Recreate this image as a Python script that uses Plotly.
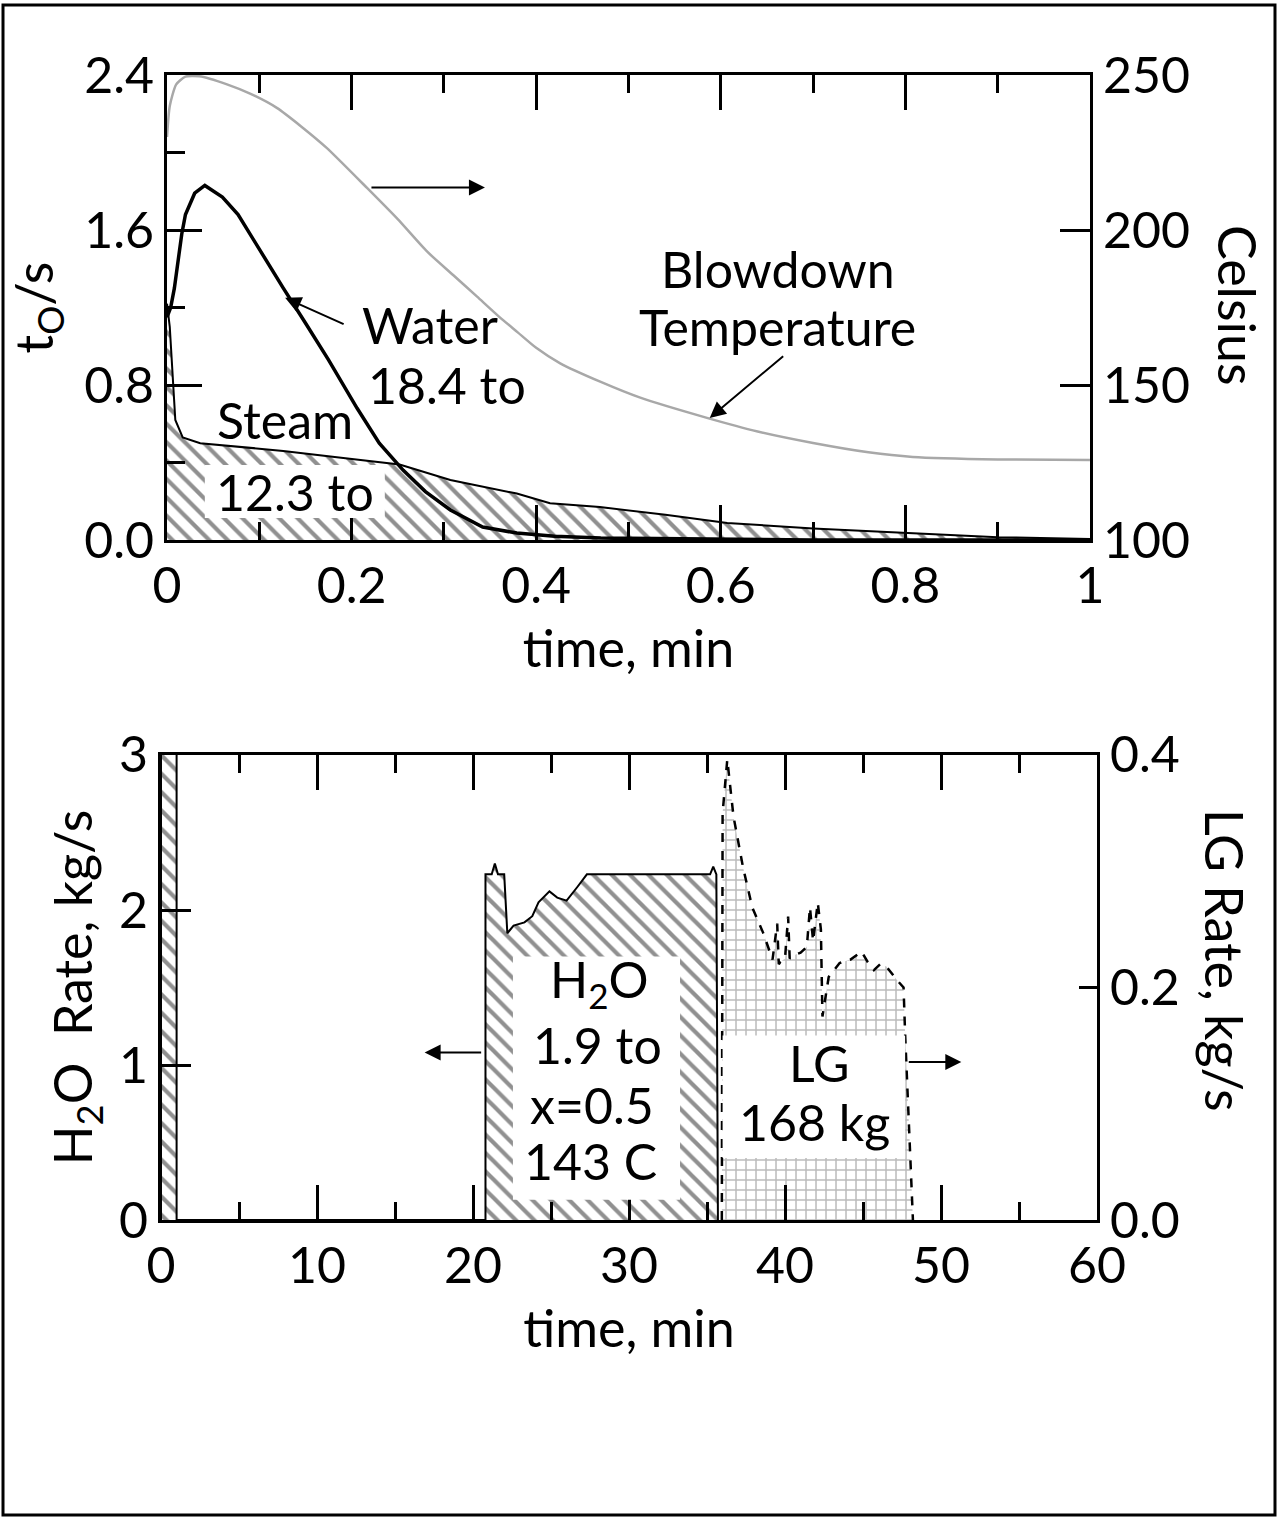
import plotly.graph_objects as go

# ---------------- data (top panel) ----------------
temp_t = [0, 0.003, 0.01, 0.02, 0.035, 0.065, 0.09, 0.119, 0.145, 0.173, 0.217, 0.25, 0.282,
          0.31, 0.336, 0.36, 0.38, 0.40, 0.426, 0.47, 0.512, 0.585, 0.64, 0.70, 0.76, 0.808,
          0.9, 1.0]
temp_c = [230, 240, 247, 249.5, 249.6, 247, 244, 239.4, 233.5, 226.5, 213.5, 203.5, 193,
          185.5, 178.5, 172, 167, 162, 157, 151, 146, 139.4, 135, 131.3, 128.3, 126.8,
          126, 125.8]

water_t = [0, 0.004, 0.008, 0.012, 0.016, 0.02, 0.03, 0.041, 0.06, 0.077, 0.1, 0.126, 0.15,
           0.175, 0.206, 0.23, 0.256, 0.28, 0.307, 0.342, 0.379, 0.42, 0.47, 0.55, 0.7, 0.85, 1.0]
water_v = [1.15, 1.2, 1.3, 1.45, 1.58, 1.68, 1.79, 1.83, 1.77, 1.68, 1.5, 1.3, 1.12,
           0.93, 0.68, 0.5, 0.36, 0.25, 0.155, 0.067, 0.036, 0.02, 0.01, 0.005, 0, 0, 0]

steam_t = [0, 0.003, 0.009, 0.017, 0.036, 0.08, 0.126, 0.198, 0.252, 0.307, 0.379, 0.415,
           0.469, 0.54, 0.607, 0.7, 0.803, 0.9, 1.0]
steam_v = [1.22, 1.1, 0.62, 0.53, 0.50, 0.48, 0.46, 0.42, 0.39, 0.31, 0.24, 0.19,
           0.17, 0.13, 0.088, 0.06, 0.036, 0.015, 0.005]

# ---------------- data (bottom panel) ----------------
h2o_t = [0, 0, 1.0, 1.0, 20.8, 20.8, 21.2, 21.4, 21.6, 22.0, 22.2, 22.6, 23.3, 23.8, 24.2,
         24.5, 24.9, 25.4, 26.0, 26.7, 27.3, 35.2, 35.4, 35.6, 35.7]
h2o_v = [0, 3.5, 3.5, 0, 0, 2.23, 2.23, 2.30, 2.23, 2.23, 1.85, 1.90, 1.92, 1.96, 2.05,
         2.08, 2.12, 2.08, 2.06, 2.15, 2.23, 2.23, 2.28, 2.23, 0]

lg_t = [35.95, 36.0, 36.3, 36.7, 37.3, 37.9, 38.6, 39.2, 39.5, 39.6, 39.7, 40.0, 40.2, 40.3,
        40.6, 41.0, 41.4, 41.6, 41.8, 42.1, 42.3, 42.4, 42.8, 43.5, 44.2, 44.9, 45.3, 45.7,
        46.1, 46.5, 47.2, 47.6, 47.7, 48.2]
lg_v = [0.0, 0.35, 0.396, 0.347, 0.304, 0.269, 0.247, 0.224, 0.255, 0.22, 0.222, 0.225, 0.261,
        0.225, 0.228, 0.23, 0.235, 0.269, 0.24, 0.273, 0.25, 0.175, 0.209, 0.221, 0.224, 0.231,
        0.222, 0.215, 0.22, 0.218, 0.206, 0.2, 0.16, 0.0]

top_xticks = [0, 0.2, 0.4, 0.6, 0.8, 1.0]
top_yticks = [0.0, 0.8, 1.6, 2.4]
top_y2ticks = [100, 150, 200, 250]
bot_xticks = [0, 10, 20, 30, 40, 50, 60]
bot_yticks = [0, 1, 2, 3]
bot_y2ticks = [0.0, 0.2, 0.4]

FONT = "Lato"
BLACK = "black"

fig = go.Figure()

hatch = dict(shape="\\", fgcolor="#222", bgcolor="white", size=13, solidity=0.32)

# top panel
fig.add_trace(go.Scatter(x=steam_t, y=steam_v, mode="lines", fill="tozeroy",
                         line=dict(color=BLACK, width=2), fillcolor="white",
                         fillpattern=hatch, xaxis="x", yaxis="y", showlegend=False))
fig.add_trace(go.Scatter(x=water_t, y=water_v, mode="lines",
                         line=dict(color=BLACK, width=3.5),
                         xaxis="x", yaxis="y", showlegend=False))
fig.add_trace(go.Scatter(x=temp_t, y=temp_c, mode="lines", line_shape="spline",
                         line=dict(color="#a8a8a8", width=2.5, smoothing=0.6),
                         xaxis="x", yaxis="y2", showlegend=False))

# bottom panel
fig.add_trace(go.Scatter(x=h2o_t, y=h2o_v, mode="lines", fill="toself",
                         line=dict(color=BLACK, width=2), fillcolor="white",
                         fillpattern=hatch, xaxis="x2", yaxis="y3", showlegend=False))
fig.add_trace(go.Scatter(x=lg_t, y=lg_v, mode="lines", fill="toself",
                         line=dict(color=BLACK, width=2.5, dash="dash"),
                         fillcolor="white",
                         fillpattern=dict(shape="+", fgcolor="#777", bgcolor="white",
                                          size=10, solidity=0.28),
                         xaxis="x2", yaxis="y4", showlegend=False))

tickfont = dict(family=FONT, size=50, color=BLACK)
titlefont = dict(family=FONT, size=52, color=BLACK)
common = dict(showline=True, linewidth=3, linecolor=BLACK, ticks="inside",
              tickwidth=2.5, tickcolor=BLACK, showgrid=False, zeroline=False,
              tickfont=tickfont)

fig.update_layout(
    width=1278, height=1517,
    margin=dict(l=150, r=150, t=50, b=150),
    paper_bgcolor="white", plot_bgcolor="white",
    font=dict(family=FONT, color=BLACK),
    xaxis=dict(domain=[0.01738, 0.9611], range=[0, 1], tickvals=top_xticks,
               ticktext=["0", "0.2", "0.4", "0.6", "0.8", "1"], ticklen=35,
               mirror="ticks", anchor="y",
               minor=dict(dtick=0.1, ticklen=18, ticks="inside", tickwidth=2.5, tickcolor=BLACK),
               title=dict(text="time, min", font=titlefont, standoff=18), **common),
    yaxis=dict(domain=[0.6279, 0.9810], range=[0, 2.4], tickvals=top_yticks,
               tickformat=".1f", ticklen=35, anchor="x",
               minor=dict(dtick=0.4, ticklen=18, ticks="inside", tickwidth=2.5, tickcolor=BLACK),
               title=dict(text="t<sub>O</sub>/s", font=titlefont, standoff=14), **common),
    yaxis2=dict(range=[100, 250], tickvals=top_y2ticks, ticklen=30, overlaying="y",
                side="right", anchor="x", **common),
    xaxis2=dict(domain=[0.01125, 0.9683], range=[0, 60], tickvals=bot_xticks, ticklen=35,
                mirror="ticks", anchor="y3",
                minor=dict(dtick=5, ticklen=18, ticks="inside", tickwidth=2.5, tickcolor=BLACK),
                title=dict(text="time, min", font=titlefont, standoff=18), **common),
    yaxis3=dict(domain=[0.1116, 0.4647], range=[0, 3], tickvals=bot_yticks, ticklen=30,
                anchor="x2",
                title=dict(text="H<sub>2</sub>O  Rate, kg/s", font=titlefont, standoff=10),
                **common),
    yaxis4=dict(range=[0, 0.4], tickvals=bot_y2ticks, tickformat=".1f", ticklen=18,
                overlaying="y3", side="right", anchor="x2", **common),
)

annfont = dict(family=FONT, size=50, color=BLACK)

shapes = [
    dict(type="rect", xref="x", yref="y", x0=0.041, x1=0.236, y0=0.114, y1=0.387,
         fillcolor="white", line=dict(width=0), layer="above"),
    dict(type="rect", xref="x2", yref="y3", x0=22.56, x1=33.27, y0=0.13, y1=1.70,
         fillcolor="white", line=dict(width=0), layer="above"),
    dict(type="rect", xref="x2", yref="y3", x0=36.0, x1=47.7, y0=0.40, y1=1.19,
         fillcolor="white", line=dict(width=0), layer="above"),
    dict(type="rect", xref="paper", yref="paper", x0=-0.1503, x1=1.1503, y0=-0.1124, y1=1.0342,
         line=dict(color=BLACK, width=3), fillcolor="rgba(0,0,0,0)", layer="above"),
]
fig.update_layout(shapes=shapes)

def txt(x, y, t, xref="x", yref="y"):
    return dict(x=x, y=y, xref=xref, yref=yref, text=t, showarrow=False, font=annfont,
                xanchor="center", yanchor="middle")

def arrow(x, y, ax, ay, xref="x", yref="y"):
    return dict(x=x, y=y, xref=xref, yref=yref, ax=ax, ay=ay, text="", showarrow=True,
                arrowhead=2, arrowsize=1.6, arrowwidth=2, arrowcolor=BLACK)

anns = [
    txt(0.285, 1.11, "Water"),
    txt(0.303, 0.80, "18.4 to"),
    txt(0.128, 0.62, "Steam"),
    txt(0.139, 0.25, "12.3 to"),
    txt(0.662, 1.40, "Blowdown"),
    txt(0.662, 1.10, "Temperature"),
    arrow(0.128, 1.25, 60, 27),
    arrow(0.3445, 1.82, -115, 0),
    arrow(0.588, 139.4, 75, -63, yref="y2"),
    txt(28.1, 1.53, "H<sub>2</sub>O", "x2", "y3"),
    txt(28.0, 1.13, "1.9 to", "x2", "y3"),
    txt(27.6, 0.74, "x=0.5", "x2", "y3"),
    txt(27.5, 0.38, "143 C", "x2", "y3"),
    txt(42.2, 1.01, "LG", "x2", "y3"),
    txt(41.9, 0.635, "168 kg", "x2", "y3"),
    arrow(16.9, 1.08, 58, 0, "x2", "y3"),
    arrow(51.3, 1.02, -54, 0, "x2", "y3"),
    dict(x=1.1125, y=0.8064, xref="paper", yref="paper", text="Celsius", textangle=90,
         showarrow=False, font=titlefont, xanchor="center", yanchor="middle"),
    dict(x=1.0992, y=0.309, xref="paper", yref="paper", text="LG Rate, kg/s", textangle=90,
         showarrow=False, font=titlefont, xanchor="center", yanchor="middle"),
]
fig.update_layout(annotations=anns)

fig.write_html("out.html")
